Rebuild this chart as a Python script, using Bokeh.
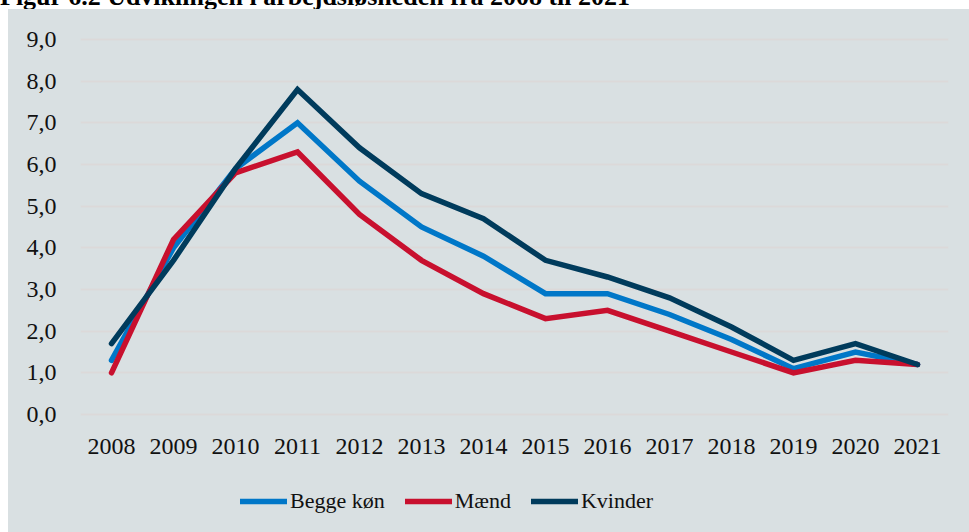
from bokeh.plotting import figure
from bokeh.models import Legend, LegendItem, FixedTicker, Div, Spacer, Range1d
from bokeh.layouts import column, row
from bokeh.embed import file_html
from bokeh.resources import INLINE

title = "Figur 6.2 Udviklingen i arbejdsløsheden fra 2008 til 2021"
years = ["2008", "2009", "2010", "2011", "2012", "2013", "2014",
         "2015", "2016", "2017", "2018", "2019", "2020", "2021"]
begge = [1.3, 4.0, 5.9, 7.0, 5.6, 4.5, 3.8, 2.9, 2.9, 2.4, 1.8, 1.1, 1.5, 1.2]
maend = [1.0, 4.2, 5.8, 6.3, 4.8, 3.7, 2.9, 2.3, 2.5, 2.0, 1.5, 1.0, 1.3, 1.2]
kvinder = [1.7, 3.7, 5.9, 7.8, 6.4, 5.3, 4.7, 3.7, 3.3, 2.8, 2.1, 1.3, 1.7, 1.2]
y_ticks = [0, 1, 2, 3, 4, 5, 6, 7, 8, 9]
series_names = ["Begge køn", "Mænd", "Kvinder"]
colors = ["#0077c8", "#c8102e", "#003b5c"]

BG = "#d9e0e2"
FONT = "Liberation Serif"
LW = 5.5

# ---- main chart ----
p = figure(width=961, height=469, x_range=years, y_range=(-0.12, 9.12),
           output_backend="svg", toolbar_location=None,
           min_border_left=72, min_border_right=21, min_border_top=25,
           min_border_bottom=59, styles={"background-color": BG})
p.background_fill_alpha = 0
p.border_fill_alpha = 0
p.outline_line_color = None

for vals, col in zip([begge, maend, kvinder], colors):
    p.line(years, vals, line_color=col, line_width=LW,
           line_cap="round", line_join="miter")

p.xgrid.grid_line_color = None
p.ygrid.grid_line_color = "#dcd9d9"
p.ygrid.grid_line_width = 2
p.yaxis.ticker = FixedTicker(ticks=y_ticks)
p.yaxis.major_label_overrides = {t: f"{t},0" for t in y_ticks}

for ax in (p.xaxis[0], p.yaxis[0]):
    ax.axis_line_color = None
    ax.major_tick_line_color = None
    ax.minor_tick_line_color = None
    ax.major_label_text_font = FONT
    ax.major_label_text_font_size = "24px"
    ax.major_label_text_color = "#111111"
p.yaxis.major_label_standoff = 18
p.xaxis.major_label_standoff = 13

# ---- legend strip (same series, lines kept outside its visible range) ----
lg = figure(width=961, height=54, x_range=p.x_range, y_range=Range1d(100, 101),
            output_backend="svg", toolbar_location=None,
            min_border_left=0, min_border_right=0, min_border_top=0,
            min_border_bottom=0, styles={"background-color": BG})
lg.background_fill_alpha = 0
lg.border_fill_alpha = 0
lg.outline_line_color = None
lg.axis.visible = False
lg.grid.grid_line_color = None
lg_renderers = []
for vals, col in zip([begge, maend, kvinder], colors):
    lg_renderers.append(lg.line(years, vals, line_color=col, line_width=LW,
                                line_cap="round"))

legend = Legend(items=[LegendItem(label=n, renderers=[r]) for n, r in zip(series_names, lg_renderers)],
                orientation="horizontal", location=(160, 18),
                label_text_font=FONT, label_text_font_size="22px",
                label_text_color="#111111",
                glyph_width=47, glyph_height=20, label_standoff=3, spacing=20,
                padding=0, margin=0,
                background_fill_alpha=0, border_line_color=None)
lg.add_layout(legend, "center")

# ---- title (cut off at the top, as in the reference) ----
title_div = Div(text=f'<div style="position:relative; top:-16px; left:0px; white-space:nowrap; '
                     f'font-family:\'{FONT}\', serif; font-weight:bold; font-size:26px; line-height:26px; '
                     f'color:#000">{title}</div>',
                width=969, height=9, margin=0, styles={"overflow": "hidden"})

layout = column(title_div,
                row(Spacer(width=8, height=523, margin=0),
                    column(p, lg, spacing=0, styles={"background-color": BG}),
                    spacing=0),
                spacing=0)

open("out.html", "w").write(file_html(layout, INLINE))
